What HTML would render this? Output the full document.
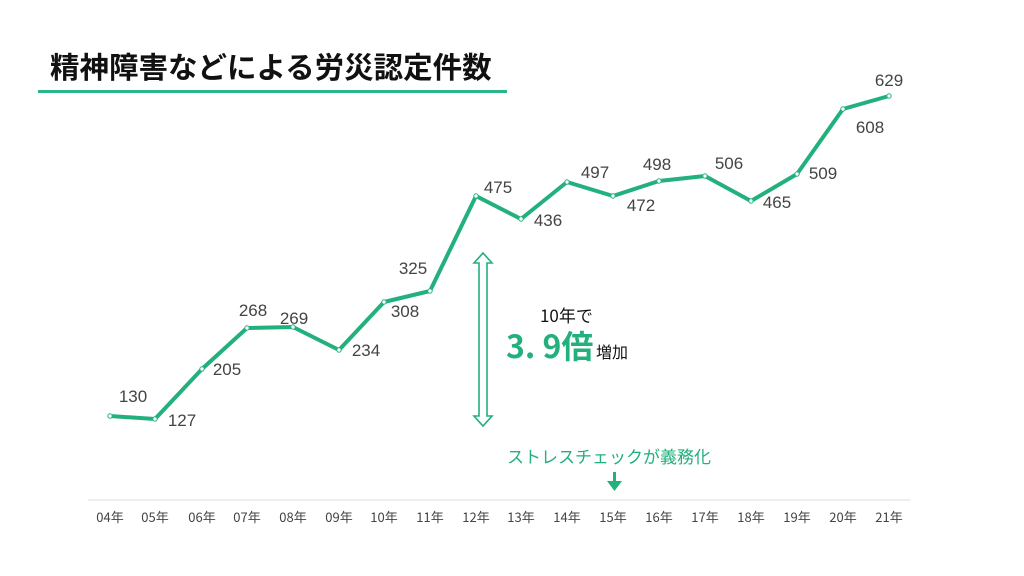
<!DOCTYPE html>
<html><head><meta charset="utf-8"><style>
html,body{margin:0;padding:0;background:#fff;}
svg{display:block;font-family:"Liberation Sans","Noto Sans CJK JP",sans-serif;}
</style></head><body>
<svg width="1024" height="576" viewBox="0 0 1024 576">
<text x="50" y="78" font-size="29.5" font-weight="bold" fill="#111" font-family="'Noto Sans CJK JP',sans-serif">精神障害などによる労災認定件数</text>
<rect x="38" y="90" width="469" height="3" fill="#2bb58a"/>
<line x1="88" y1="500" x2="910" y2="500" stroke="#ddd" stroke-width="1"/>
<g font-size="13" fill="#444" text-anchor="middle" font-family="'Noto Sans CJK JP',sans-serif">
<text x="110" y="522">04年</text><text x="155" y="522">05年</text><text x="202" y="522">06年</text><text x="247" y="522">07年</text><text x="293" y="522">08年</text><text x="339" y="522">09年</text><text x="384" y="522">10年</text><text x="430" y="522">11年</text><text x="476" y="522">12年</text><text x="521" y="522">13年</text><text x="567" y="522">14年</text><text x="613" y="522">15年</text><text x="659" y="522">16年</text><text x="705" y="522">17年</text><text x="751" y="522">18年</text><text x="797" y="522">19年</text><text x="843" y="522">20年</text><text x="889" y="522">21年</text>
</g>
<polyline fill="none" stroke="#22b07d" stroke-width="4" stroke-linejoin="round" points="110,416 155,419 202,369 247,328 293,327 339,350 384,302 430,291 476,196 521,219 567,182 613,196 659,181 705,176 751,201 797,174 843,109 889,96"/>
<g fill="#fff" stroke="#22b07d" stroke-width="1">
<circle cx="110" cy="416" r="2.2"/><circle cx="155" cy="419" r="2.2"/><circle cx="202" cy="369" r="2.2"/><circle cx="247" cy="328" r="2.2"/><circle cx="293" cy="327" r="2.2"/><circle cx="339" cy="350" r="2.2"/><circle cx="384" cy="302" r="2.2"/><circle cx="430" cy="291" r="2.2"/><circle cx="476" cy="196" r="2.2"/><circle cx="521" cy="219" r="2.2"/><circle cx="567" cy="182" r="2.2"/><circle cx="613" cy="196" r="2.2"/><circle cx="659" cy="181" r="2.2"/><circle cx="705" cy="176" r="2.2"/><circle cx="751" cy="201" r="2.2"/><circle cx="797" cy="174" r="2.2"/><circle cx="843" cy="109" r="2.2"/><circle cx="889" cy="96" r="2.2"/>
</g>
<g font-size="17" fill="#444" text-anchor="middle">
<text x="133" y="402">130</text><text x="182" y="426">127</text><text x="227" y="375">205</text><text x="253" y="316">268</text><text x="294" y="324">269</text><text x="366" y="356">234</text><text x="405" y="317">308</text><text x="413" y="274">325</text><text x="498" y="193">475</text><text x="548" y="226">436</text><text x="595" y="178">497</text><text x="641" y="211">472</text><text x="657" y="170">498</text><text x="729" y="169">506</text><text x="777" y="208">465</text><text x="823" y="179">509</text><text x="870" y="133">608</text><text x="889" y="86">629</text>
</g>
<polygon points="483,253 492,263 487,263 487,416 492,416 483,426 474,416 479,416 479,263 474,263" fill="#fff" stroke="#22b07d" stroke-width="1.6" stroke-linejoin="miter"/>
<text x="540" y="322" font-size="17" fill="#111" font-family="'Noto Sans CJK JP',sans-serif">10年で</text>
<text x="506" y="358" font-size="32" fill="#22b07d" font-weight="bold" font-family="'Noto Sans CJK JP',sans-serif">3. 9倍</text>
<text x="596" y="358" font-size="16" fill="#111" font-family="'Noto Sans CJK JP',sans-serif">増加</text>
<text x="507" y="463" font-size="17" fill="#22b07d" font-family="'Noto Sans CJK JP',sans-serif">ストレスチェックが義務化</text>
<rect x="613" y="472" width="3" height="10" fill="#22b07d"/>
<polygon points="607,481 622,481 614.5,491" fill="#22b07d"/>
</svg>
</body></html>
